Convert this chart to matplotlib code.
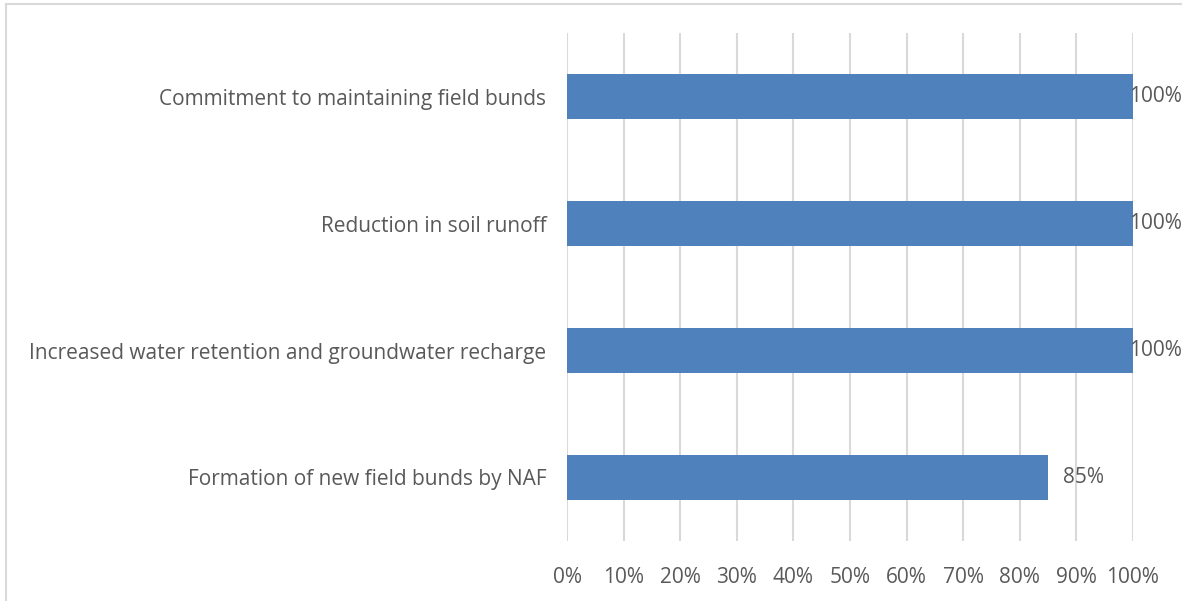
import matplotlib.pyplot as plt
from matplotlib.lines import Line2D

categories = [
    "Formation of new field bunds by NAF",
    "Increased water retention and groundwater recharge",
    "Reduction in soil runoff",
    "Commitment to maintaining field bunds",
]
values = [85, 100, 100, 100]
ticks = list(range(0, 101, 10))
tick_labels = [f"{t}%" for t in ticks]

plt.rcParams['font.family'] = ['Open Sans', 'DejaVu Sans']
text_col = '#595959'
grid_col = '#d9d9d9'
bar_col = '#4f81bd'

fig = plt.figure(figsize=(11.82, 6.01), dpi=100)
ax = fig.add_axes([567 / 1182, 1 - 541 / 601, (1133 - 567) / 1182, (541 - 33) / 601])

pos = list(range(len(categories)))
ax.barh(pos, values, height=0.355, color=bar_col, zorder=3)

ax.set_xlim(0, 100)
ax.set_ylim(-0.5, len(categories) - 0.5)
ax.set_xticks(ticks)
ax.set_xticklabels(tick_labels)
ax.set_yticks(pos)
ax.set_yticklabels(categories)
ax.tick_params(axis='both', length=0, labelsize=15, colors=text_col)
ax.tick_params(axis='y', pad=15)
ax.tick_params(axis='x', pad=19)
ax.grid(axis='x', color=grid_col, linewidth=1.5, zorder=0)
for s in ax.spines.values():
    s.set_visible(False)

# data labels: outside end, pulled back in when the bar reaches the axis end
for p, v in zip(pos, values):
    dx = 11 if v < 100 else -3
    ax.annotate(f"{v}%", (v, p), xytext=(dx, 0), textcoords='offset points',
                ha='left', va='center', fontsize=15, color=text_col, zorder=4)

# chart area border (left and top edges)
fig.add_artist(Line2D([6 / 1182, 6 / 1182], [0, 1 - 4 / 601], color=grid_col,
                      linewidth=1.5, transform=fig.transFigure))
fig.add_artist(Line2D([6 / 1182, 1], [1 - 4 / 601, 1 - 4 / 601], color=grid_col,
                      linewidth=1.5, transform=fig.transFigure))

fig.savefig('out.png', dpi=100)
